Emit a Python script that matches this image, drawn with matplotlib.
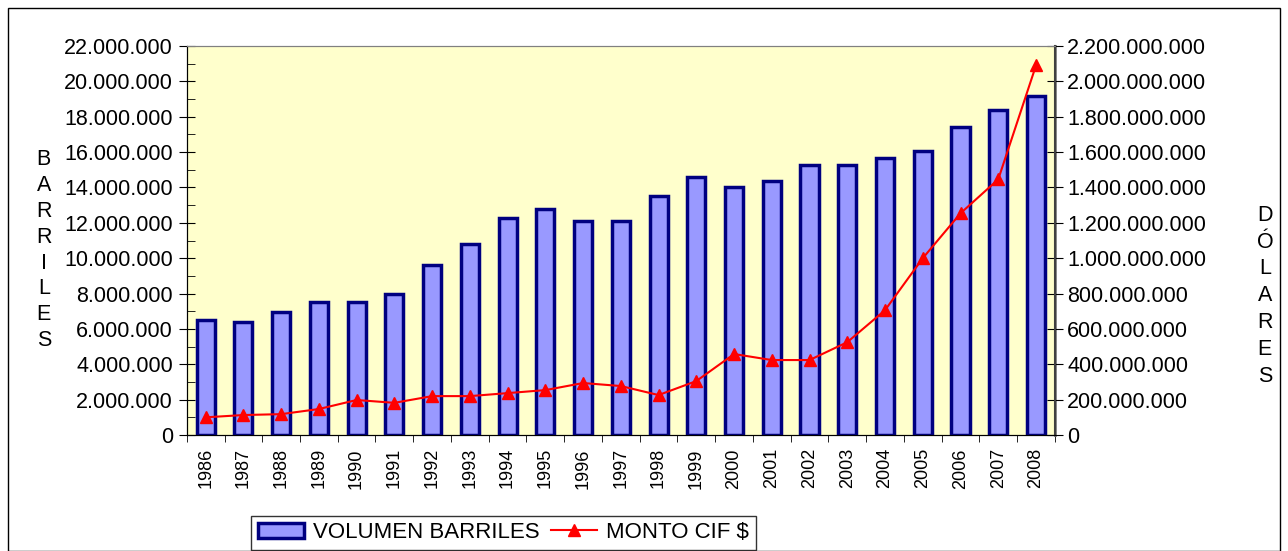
import matplotlib
matplotlib.use('Agg')
import matplotlib.pyplot as plt
from matplotlib.ticker import MultipleLocator, FuncFormatter
from matplotlib.patches import Rectangle

plt.rcParams['font.family'] = ['Liberation Sans', 'DejaVu Sans']

years = [str(y) for y in range(1986, 2009)]
volumen = [6.5, 6.4, 6.95, 7.55, 7.55, 7.95, 9.6, 10.8, 12.25, 12.8, 12.1, 12.1,
           13.5, 14.6, 14.0, 14.35, 15.25, 15.25, 15.65, 16.05, 17.4, 18.4, 19.15]
volumen = [v * 1e6 for v in volumen]
monto = [100, 113, 118, 147, 198, 182, 220, 220, 237, 254, 294, 277,
         226, 305, 458, 424, 424, 525, 706, 1000, 1254, 1446, 2090]
monto = [m * 1e6 for m in monto]


def miles(x, pos):
    return f'{int(x):,}'.replace(',', '.')


fig = plt.figure(figsize=(12.88, 5.51), dpi=100)
fig.patches.append(Rectangle((0.006, 0.0), 0.988, 0.986, transform=fig.transFigure,
                             fill=False, edgecolor='black', linewidth=1))
ax = fig.add_axes([0.145, 0.2105, 0.674, 0.706])
ax.set_facecolor('#FFFFCC')

x = list(range(len(years)))
bars = ax.bar(x, volumen, width=0.48, color='#9999FF', edgecolor='#000080',
              linewidth=2.5, label='VOLUMEN BARRILES', zorder=2)
ax.set_xlim(-0.5, len(years) - 0.5)
ax.set_ylim(0, 22e6)
ax.yaxis.set_major_locator(MultipleLocator(2e6))
ax.yaxis.set_minor_locator(MultipleLocator(1e6))
ax.yaxis.set_major_formatter(FuncFormatter(miles))
ax.set_xticks(x)
ax.set_xticklabels(years, rotation=90, fontsize=13)
ax.set_xticks([i - 0.5 for i in range(len(years) + 1)], minor=True)
ax.tick_params(axis='x', which='major', length=0, pad=9.5)
ax.tick_params(axis='x', which='minor', length=5, direction='out')
ax.tick_params(axis='y', which='major', length=12, direction='inout',
               labelsize=15.5, pad=4)
ax.tick_params(axis='y', which='minor', length=6, direction='in')
ax.spines['top'].set_color('#808080')
ax.spines['right'].set_color('#808080')
ax.spines['right'].set_linewidth(2)

ax2 = ax.twinx()
line, = ax2.plot(x, monto, color='red', marker='^', markersize=9, linewidth=1.5,
                 label='MONTO CIF $', zorder=3)
ax2.set_ylim(0, 2.2e9)
ax2.yaxis.set_major_locator(MultipleLocator(2e8))
ax2.yaxis.set_major_formatter(FuncFormatter(miles))
ax2.tick_params(axis='y', length=12, direction='inout', labelsize=15.5, pad=3)
ax2.spines['top'].set_color('#808080')
ax2.spines['right'].set_color('#404040')
ax2.spines['right'].set_linewidth(1.5)

fig.text(0.034, 0.546, '\n'.join('BARRILES'), ha='center', va='center',
         fontsize=15.5, linespacing=1.3)
fig.text(0.982, 0.463, '\n'.join('DÓLARES'), ha='center', va='center',
         fontsize=15.5, linespacing=1.37)

leg = fig.legend([bars, line], ['VOLUMEN BARRILES', 'MONTO CIF $'],
                 loc='lower left', bbox_to_anchor=(0.194, 0.0), ncol=2,
                 frameon=True, fancybox=False, edgecolor='black', fontsize=16,
                 handlelength=2.07, handletextpad=0.4, columnspacing=0.55,
                 borderpad=0.3, borderaxespad=0.05)
leg.get_frame().set_linewidth(1)

fig.savefig('out.png', dpi=100)
